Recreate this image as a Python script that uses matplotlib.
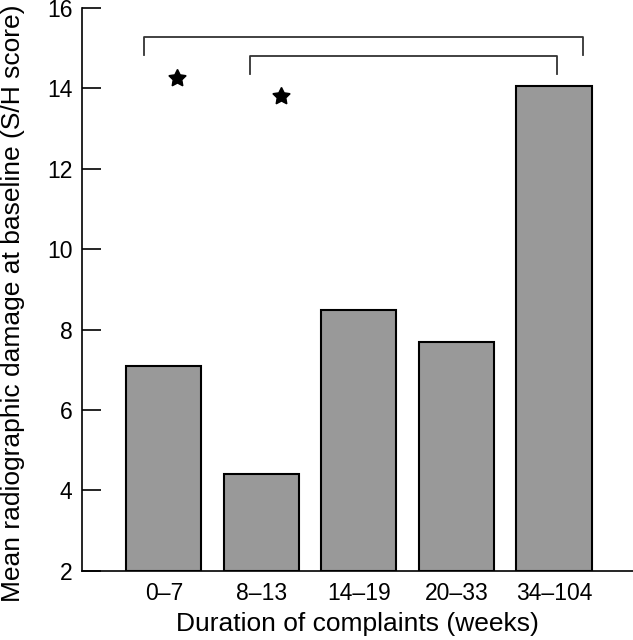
import matplotlib
matplotlib.use("Agg")
import matplotlib.pyplot as plt

categories = ["0–7", "8–13", "14–19", "20–33", "34–104"]
values = [7.1, 4.4, 8.5, 7.7, 14.05]
y_ticks = [2, 4, 6, 8, 10, 12, 14, 16]

plt.rcParams['font.family'] = ['Liberation Sans', 'DejaVu Sans']

fig = plt.figure(figsize=(6.33, 6.4), dpi=100)
ax = fig.add_axes([0.1295, 0.108, 0.8705, 0.8795])

x = list(range(len(categories)))
ax.bar(x, [v - 2 for v in values], bottom=2, width=0.77, color="#999999",
       edgecolor="black", linewidth=1.5)

ax.set_xlim(-0.84, 4.81)
ax.set_ylim(2, 16)
ax.set_yticks(y_ticks)
ax.set_xticks(x)
ax.set_xticklabels(categories)
ax.tick_params(axis='y', direction='in', length=14, width=1.2, labelsize=16.5, pad=7)
ax.tick_params(axis='x', length=0, labelsize=16.5, pad=8)
for s in ['top', 'right']:
    ax.spines[s].set_visible(False)
for s in ['left', 'bottom']:
    ax.spines[s].set_linewidth(1.2)

ax.set_xlabel("Duration of complaints (weeks)", fontsize=19, labelpad=5)
ax.set_ylabel("Mean radiographic damage at baseline (S/H score)", fontsize=19)
ax.yaxis.set_label_coords(-0.104, 0.476)

# significance brackets
bc = "#333333"
ax.plot([-0.205, -0.205, 4.30, 4.30], [14.84, 15.28, 15.28, 14.84], color=bc, lw=1.3)
ax.plot([0.88, 0.88, 4.03, 4.03], [14.36, 14.81, 14.81, 14.36], color=bc, lw=1.3)
ax.plot([0.13], [14.26], marker=(5, 1, 0), color="black", markersize=13, linestyle="none")
ax.plot([1.20], [13.82], marker=(5, 1, 0), color="black", markersize=13, linestyle="none")

fig.savefig("out.png", dpi=100)
